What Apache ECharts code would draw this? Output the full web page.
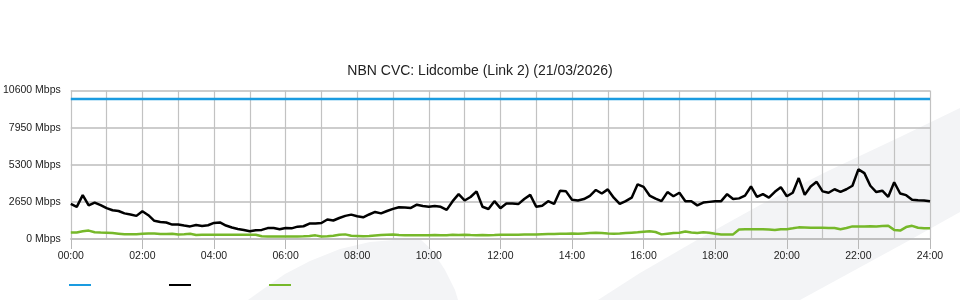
<!DOCTYPE html>
<html>
<head>
<meta charset="utf-8">
<script src="https://cdn.jsdelivr.net/npm/echarts@6/dist/echarts.min.js"></script>
<style>html,body{margin:0;padding:0;background:#fff}#c{width:960px;height:300px}</style>
</head>
<body>
<div id="c"></div>
<script>
const times = ['00:00','00:10','00:20','00:30','00:40','00:50','01:00','01:10','01:20','01:30','01:40','01:50',
'02:00','02:10','02:20','02:30','02:40','02:50','03:00','03:10','03:20','03:30','03:40','03:50',
'04:00','04:10','04:20','04:30','04:40','04:50','05:00','05:10','05:20','05:30','05:40','05:50',
'06:00','06:10','06:20','06:30','06:40','06:50','07:00','07:10','07:20','07:30','07:40','07:50',
'08:00','08:10','08:20','08:30','08:40','08:50','09:00','09:10','09:20','09:30','09:40','09:50',
'10:00','10:10','10:20','10:30','10:40','10:50','11:00','11:10','11:20','11:30','11:40','11:50',
'12:00','12:10','12:20','12:30','12:40','12:50','13:00','13:10','13:20','13:30','13:40','13:50',
'14:00','14:10','14:20','14:30','14:40','14:50','15:00','15:10','15:20','15:30','15:40','15:50',
'16:00','16:10','16:20','16:30','16:40','16:50','17:00','17:10','17:20','17:30','17:40','17:50',
'18:00','18:10','18:20','18:30','18:40','18:50','19:00','19:10','19:20','19:30','19:40','19:50',
'20:00','20:10','20:20','20:30','20:40','20:50','21:00','21:10','21:20','21:30','21:40','21:50',
'22:00','22:10','22:20','22:30','22:40','22:50','23:00','23:10','23:20','23:30','23:40','23:50',
'24:00'];

const capacity = [10000, 10000];

const download = [
2500,2290,3130,2400,2600,2420,2200,2055,2000,1830,
1750,1650,1980,1700,1300,1220,1180,1030,1030,960,
900,1000,930,980,1145,1180,960,820,720,640,
560,620,650,780,780,700,790,760,880,910,
1100,1100,1140,1390,1320,1500,1650,1740,1620,1550,
1750,1930,1830,2000,2150,2270,2250,2220,2450,2350,
2300,2350,2300,2080,2700,3200,2750,3000,3400,2300,
2140,2700,2200,2535,2535,2490,2850,3150,2300,2380,
2700,2500,3440,3400,2800,2750,2850,3080,3500,3250,
3540,2950,2500,2700,2950,3900,3720,3100,2880,2700,
3350,3050,3300,2700,2700,2400,2600,2650,2700,2700,
3200,2850,2900,3100,3750,3000,3200,2950,3370,3700,
3050,3300,4350,3150,3750,4080,3400,3300,3550,3370,
3550,3800,4970,4700,3800,3350,3450,3010,4050,3250,
3130,2800,2770,2750,2700];

const upload = [
460,470,550,600,480,460,450,420,380,340,
340,340,370,400,400,350,350,380,320,340,
370,280,300,300,310,300,300,300,300,300,
300,300,200,180,180,180,180,180,180,190,
220,260,180,200,230,300,330,230,220,200,
220,250,280,310,320,290,270,270,270,270,
270,280,270,270,300,290,300,280,270,280,
270,280,300,300,310,300,320,330,320,340,
360,350,370,380,390,380,400,420,440,430,
400,380,390,420,450,480,520,560,500,330,
380,430,450,540,470,430,480,450,370,320,
320,330,680,690,690,690,690,680,650,700,
700,760,830,820,800,810,800,790,790,700,
780,900,900,890,910,900,930,950,650,600,
850,940,800,760,760];

const yTicks = [0, 2650, 5300, 7950, 10600];
const seriesNames = ['Capacity', 'Download', 'Upload'];
const colors = ['#1a9be0', '#000000', '#76b82a'];

const FONT = '"Liberation Sans", Arial, sans-serif';
const chart = echarts.init(document.getElementById('c'), null, {renderer: 'canvas'});

const capData = times.map(() => capacity[0]);

function mkLegend(i, left) {
  return {
    data: [seriesNames[i]], left: left, top: 284, padding: 0,
    icon: 'rect', itemWidth: 22, itemHeight: 2,
    formatter: () => '', textStyle: {fontSize: 1}, selectedMode: false
  };
}

chart.setOption({
  animation: false,
  backgroundColor: '#fff',
  title: {
    text: 'NBN CVC: Lidcombe (Link 2) (21/03/2026)',
    left: 'center', top: 64, padding: 0,
    textStyle: {fontFamily: FONT, fontSize: 14, fontWeight: 'normal', color: '#222'}
  },
  graphic: [
    {type: 'polygon', z: -10, silent: true,
     shape: {points: [[248,300],[262,290],[285,274],[310,261],[340,249],[370,242],[400,239.5],[420,239],[432,250],[445,270],[455,290],[458,300]]},
     style: {fill: '#f3f4f6'}},
    {type: 'polygon', z: -10, silent: true,
     shape: {points: [[598,300],[640,273],[697,240],[760,205],[830,170],[900,137],[960,108],[960,212],[910,240],[800,300]]},
     style: {fill: '#f3f4f6'}}
  ],
  legend: [mkLegend(0, 69), mkLegend(1, 169), mkLegend(2, 269)],
  grid: {left: 70, right: 30, top: 90.5, bottom: 61, containLabel: false},
  xAxis: {
    type: 'category', data: times, boundaryGap: false,
    axisLine: {lineStyle: {color: '#bcbcbc', width: 1.5}},
    axisTick: {show: true, interval: 11, length: 10, lineStyle: {color: '#b8b8b8'}},
    axisLabel: {interval: 11, margin: 12, color: '#222', fontFamily: FONT, fontSize: 10.5},
    splitLine: {show: true, interval: 5, lineStyle: {color: '#c2c2c2', width: 1.2}}
  },
  yAxis: {
    type: 'value', min: yTicks[0], max: yTicks[yTicks.length - 1], interval: yTicks[1] - yTicks[0],
    axisLine: {show: false}, axisTick: {show: false},
    axisLabel: {margin: 10, color: '#222', fontFamily: FONT, fontSize: 10.5, formatter: v => v + ' Mbps'},
    splitLine: {show: true, lineStyle: {color: '#bcbcbc', width: 1.5}}
  },
  series: [
    {name: seriesNames[0], type: 'line', data: capData, symbol: 'none', color: colors[0], lineStyle: {width: 2.5, color: colors[0]}},
    {name: seriesNames[1], type: 'line', data: download, symbol: 'none', color: colors[1], lineStyle: {width: 2.5, color: colors[1]}},
    {name: seriesNames[2], type: 'line', data: upload, symbol: 'none', color: colors[2], lineStyle: {width: 2.5, color: colors[2]}}
  ]
});
</script>
</body>
</html>
